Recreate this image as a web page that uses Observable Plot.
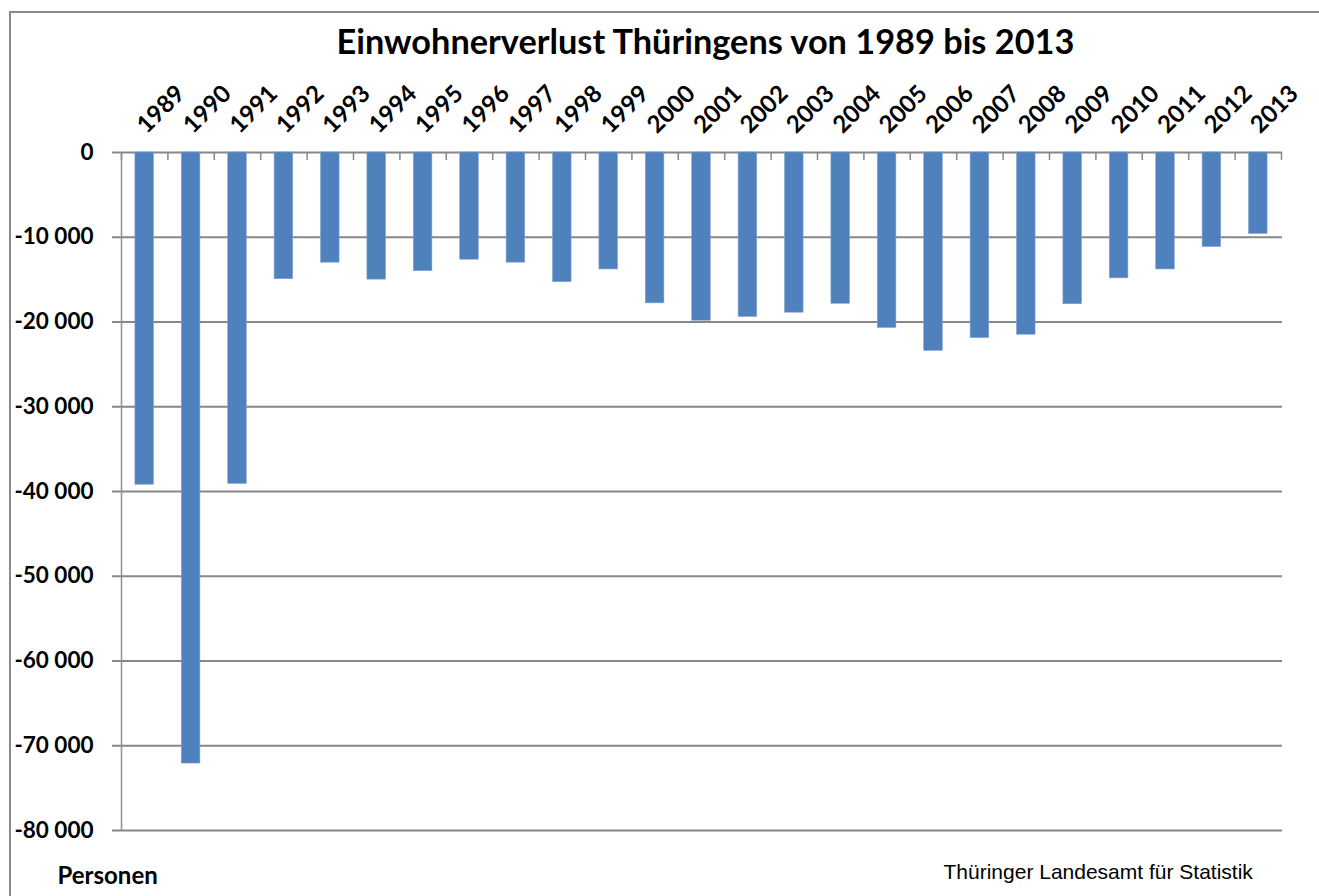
<!DOCTYPE html>
<html>
<head>
<meta charset="utf-8">
<script src="https://cdn.jsdelivr.net/npm/d3@7"></script>
<script src="https://cdn.jsdelivr.net/npm/@observablehq/plot@0.6"></script>
<style>
  html, body { margin: 0; padding: 0; background: #fff; }
  #wrap { position: relative; width: 1319px; height: 896px; overflow: hidden; }
  #border { position: absolute; left: 9px; top: 11px; width: 1320px; height: 900px;
            border-left: 2px solid #8a8a8a; border-top: 2px solid #8a8a8a; }
  #chart { position: absolute; left: 0; top: 0; }
</style>
</head>
<body>
<div id="wrap"><div id="border"></div><div id="chart"></div></div>
<script>
// ---- data ----
const years = [1989, 1990, 1991, 1992, 1993, 1994, 1995, 1996, 1997, 1998, 1999, 2000,
               2001, 2002, 2003, 2004, 2005, 2006, 2007, 2008, 2009, 2010, 2011, 2012, 2013];
const losses = [-39200, -72100, -39100, -14950, -13000, -15000, -14000, -12650, -13000, -15300, -13800, -17800,
                -19850, -19400, -18900, -17850, -20700, -23400, -21900, -21500, -17900, -14850, -13800, -11150, -9600];
const yTicks = [0, -10000, -20000, -30000, -40000, -50000, -60000, -70000, -80000];
const titleText = "Einwohnerverlust Thüringens von 1989 bis 2013";
const unitText = "Personen";
const sourceText = "Thüringer Landesamt für Statistik";

const data = years.map((year, i) => ({year, value: losses[i]}));

// ---- layout ----
const W = 1319, H = 896, mL = 121, mR = 38, mT = 152, mB = 66;
const step = (W - mL - mR) / years.length;
const grey = "#878787";
const fmt = d3.formatLocale({decimal: ",", thousands: " ", grouping: [3], currency: ["", " €"], minus: "-"}).format(",");

const chart = Plot.plot({
  width: W, height: H,
  marginLeft: mL, marginRight: mR, marginTop: mT, marginBottom: mB,
  style: {fontFamily: "Lato, 'Open Sans', sans-serif", color: "#000", background: "transparent"},
  x: {type: "band", domain: years, paddingInner: 0.6, paddingOuter: 0.3, round: false, axis: null},
  y: {domain: [-80000, 0], axis: null},
  marks: [
    // gridlines (extend left into tick marks)
    Plot.ruleY(yTicks, {y: d => d, stroke: grey, strokeWidth: 2, insetLeft: -9, insetRight: -1}),
    // bars
    Plot.barY(data, {x: "year", y: "value", fill: "#4f81bd", stroke: "#7ea0cf", strokeWidth: 0.6}),
    // vertical axis line
    Plot.ruleX([years[0]], {x: d => d, dx: -step / 2, y1: 0, y2: -80000, stroke: "#8f8f8f", strokeWidth: 1.5}),
    // category boundary ticks hanging from the zero line
    Plot.ruleX(years, {x: d => d, dx: -step / 2, y1: 0, y2: -950, stroke: grey, strokeWidth: 1.5}),
    Plot.ruleX([years[years.length - 1]], {x: d => d, dx: step / 2, y1: 0, y2: -950, stroke: grey, strokeWidth: 1.5}),
    // y tick labels
    Plot.text(yTicks, {y: d => d, frameAnchor: "left", dx: -28, text: d => fmt(d), textAnchor: "end",
                       fontSize: 22.5, fontWeight: "bold", fill: "#000"}),
    // rotated year labels above the plot
    Plot.text(years, {x: d => d, frameAnchor: "top", dy: -18, dx: 2, text: d => String(d), rotate: -45,
                      textAnchor: "start", lineAnchor: "bottom", fontSize: 24, fontWeight: "bold", fill: "#000"}),
    // title
    Plot.text([titleText], {frameAnchor: "top-left", dx: 336 - mL, dy: 53 - mT, textAnchor: "start", lineAnchor: "bottom",
                            fontSize: 34.3, fontWeight: "bold", fill: "#000"}),
    // unit label
    Plot.text([unitText], {frameAnchor: "bottom-left", dx: 57 - mL, dy: 883 - (H - mB), textAnchor: "start", lineAnchor: "bottom",
                           fontSize: 24, fontWeight: "bold", fill: "#000"}),
    // source
    Plot.text([sourceText], {frameAnchor: "bottom-left", dx: 943 - mL, dy: 878 - (H - mB), textAnchor: "start", lineAnchor: "bottom",
                             fontSize: 21, fontFamily: "'Liberation Sans', Arial, sans-serif", fill: "#000"})
  ]
});
document.getElementById("chart").appendChild(chart);
</script>
</body>
</html>
